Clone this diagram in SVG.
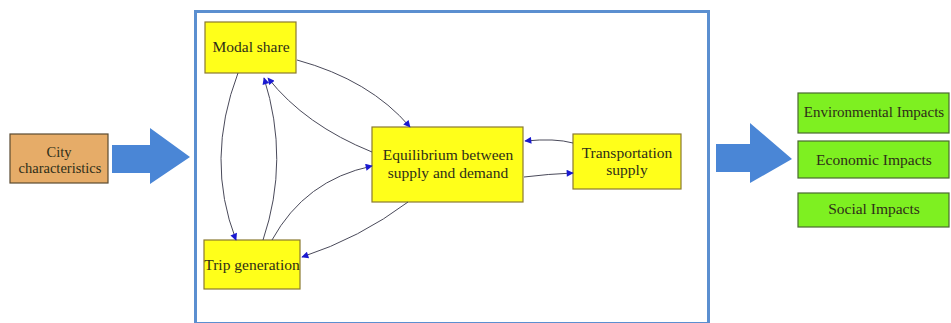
<svg xmlns="http://www.w3.org/2000/svg" width="951" height="323" viewBox="0 0 951 323">
<defs>
<style>
.lbl{font-family:'Liberation Serif','Times New Roman','DejaVu Serif',serif;font-size:15.5px;fill:#2e2e18;text-anchor:middle}
.yel{fill:#ffff1a;stroke:#8a7a30;stroke-width:1.2}
.grn{fill:#7ef021;stroke:#4a6a30;stroke-width:1.2}
.tan{fill:#e6ac68;stroke:#5a4a30;stroke-width:1.2}
.con{fill:none;stroke:#4a4a5a;stroke-width:1;marker-end:url(#ah)}
.big{fill:#4a86d6}
</style>
<marker id="ah" viewBox="0 0 10 10" refX="9" refY="5" markerWidth="10" markerHeight="7" markerUnits="userSpaceOnUse" orient="auto">
<path d="M0,0 L10,5 L0,10 Z" fill="#1a1ad0"/>
</marker>
</defs>
<rect width="951" height="323" fill="#ffffff"/>
<rect x="195.5" y="11.5" width="513" height="312" fill="#ffffff" stroke="#5b8fd0" stroke-width="3"/>
<g id="arrow-in"><path class="big" d="M112,145 L150,145 L150,128 L190,157 L150,184 L150,173 L112,173 Z"/></g>
<g id="arrow-out"><path class="big" d="M716,144 L750,144 L750,123 L792,159 L750,183 L750,172 L716,172 Z"/></g>
<g id="city"><rect class="tan" x="10" y="134" width="98" height="49"/><text class="lbl" font-family="Liberation Serif, serif" x="59" y="157" style="font-size:14.5px">City</text><text class="lbl" font-family="Liberation Serif, serif" x="60" y="173" style="font-size:14.5px">characteristics</text></g>
<g id="modal"><rect class="yel" x="205" y="22" width="91" height="51"/><text class="lbl" font-family="Liberation Serif, serif" x="251" y="52">Modal share</text></g>
<g id="equil"><rect class="yel" x="372" y="127" width="151" height="75"/><text class="lbl" font-family="Liberation Serif, serif" x="448" y="160">Equilibrium between</text><text class="lbl" font-family="Liberation Serif, serif" x="448" y="178">supply and demand</text></g>
<g id="transport"><rect class="yel" x="573" y="134" width="108" height="55"/><text class="lbl" font-family="Liberation Serif, serif" x="627" y="158">Transportation</text><text class="lbl" font-family="Liberation Serif, serif" x="627" y="175">supply</text></g>
<g id="trip"><rect class="yel" x="204" y="240" width="96" height="49"/><text class="lbl" font-family="Liberation Serif, serif" x="252" y="270">Trip generation</text></g>
<g id="env"><rect class="grn" x="798" y="93" width="151" height="40"/><text class="lbl" font-family="Liberation Serif, serif" x="874" y="117" style="font-size:15px">Environmental Impacts</text></g>
<g id="eco"><rect class="grn" x="798" y="141" width="151" height="37"/><text class="lbl" font-family="Liberation Serif, serif" x="874" y="165">Economic Impacts</text></g>
<g id="soc"><rect class="grn" x="798" y="193" width="151" height="34"/><text class="lbl" font-family="Liberation Serif, serif" x="874" y="214">Social Impacts</text></g>
<g id="connectors">
<path class="con" d="M297,60 Q370,80 410,127"/>
<path class="con" d="M372,152 Q305,125 268,78"/>
<path class="con" d="M238,73 Q205,160 236,240"/>
<path class="con" d="M263,240 Q290,160 264,78"/>
<path class="con" d="M272,240 Q305,180 372,166"/>
<path class="con" d="M408,202 Q360,238 302,257"/>
<path class="con" d="M573,143 Q555,138 525,141"/>
<path class="con" d="M524,177 Q548,174 573,173"/>
</g>
</svg>
